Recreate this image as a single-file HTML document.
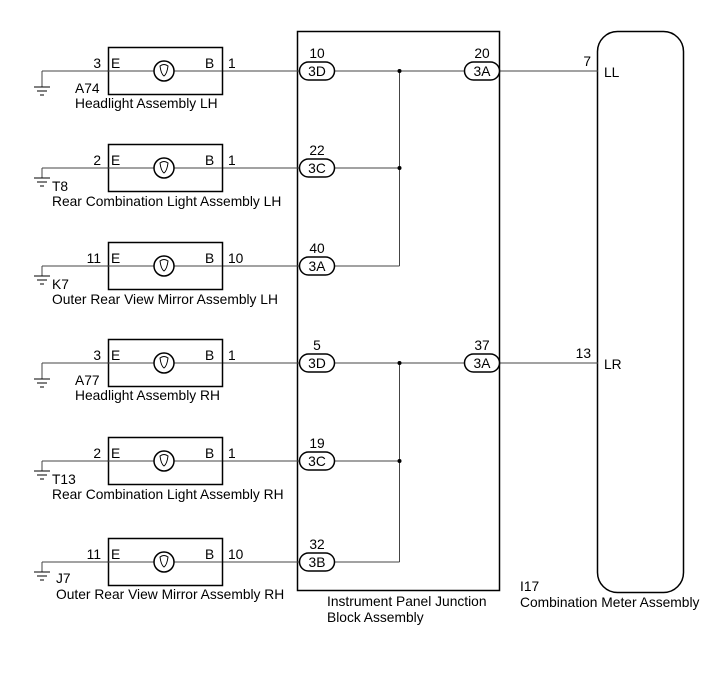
<!DOCTYPE html>
<html><head><meta charset="utf-8"><style>
html,body{margin:0;padding:0;background:#fff;}
svg{display:block;font-family:"Liberation Sans",Arial,sans-serif;font-size:13.8px;}
.w{stroke:#444;stroke-width:1;fill:none}
.k{stroke:#000;stroke-width:1.5;fill:#fff}
.g{stroke:#000;stroke-width:1}
text{fill:#000}
.m{text-anchor:middle}
.e{text-anchor:end}
</style></head><body>
<svg width="713" height="681" viewBox="0 0 713 681" xmlns="http://www.w3.org/2000/svg">
<rect x="297.5" y="31.5" width="202" height="559" fill="none" stroke="#000" stroke-width="1.5"/>
<rect x="597.5" y="31.5" width="86" height="561" rx="20" fill="none" stroke="#000" stroke-width="1.5"/>

<g transform="translate(0,71)">
<line class="w" x1="334" y1="0" x2="598" y2="0"/>
<line class="w" x1="399.5" y1="0" x2="399.5" y2="195"/>
<line class="w" x1="334" y1="195" x2="399.5" y2="195"/>
<line class="w" x1="334" y1="97" x2="399.5" y2="97"/>
<circle cx="399.5" cy="0" r="2"/><circle cx="399.5" cy="97" r="2"/>
<rect class="k" x="464.5" y="-9" width="35" height="18" rx="9"/>
<text class="m" x="482" y="5">3A</text><text class="m" x="482" y="-13">20</text>
<text class="e" x="591" y="-5">7</text><text x="604" y="6">LL</text>
</g>
<g transform="translate(0,363)">
<line class="w" x1="334" y1="0" x2="598" y2="0"/>
<line class="w" x1="399.5" y1="0" x2="399.5" y2="199"/>
<line class="w" x1="334" y1="199" x2="399.5" y2="199"/>
<line class="w" x1="334" y1="98" x2="399.5" y2="98"/>
<circle cx="399.5" cy="0" r="2"/><circle cx="399.5" cy="98" r="2"/>
<rect class="k" x="464.5" y="-9" width="35" height="18" rx="9"/>
<text class="m" x="482" y="5">3A</text><text class="m" x="482" y="-13">37</text>
<text class="e" x="591" y="-5">13</text><text x="604" y="6">LR</text>
</g>

<g transform="translate(0,71)">
<line class="w" x1="42" y1="0" x2="299" y2="0"/>
<line class="w" x1="42" y1="0" x2="42" y2="16"/>
<line class="g" x1="34" y1="16" x2="50" y2="16"/><line class="g" x1="37" y1="20" x2="47" y2="20"/><line class="g" x1="40" y1="24" x2="44" y2="24"/>
<rect class="k" x="108.5" y="-23.5" width="114" height="47"/>
<line class="w" x1="108" y1="0" x2="222" y2="0"/>
<circle class="k" cx="164" cy="0" r="10"/>
<path d="M160 -5 q4 -3 8 0 q-1 8 -4 10 q-3 -2 -4 -10z" fill="none" stroke="#000"/>
<rect class="k" x="299.5" y="-9" width="35" height="18" rx="9"/>
<text class="m" x="317" y="5">3D</text><text class="m" x="317" y="-13">10</text>
<text class="e" x="101" y="-3">3</text><text x="111" y="-3">E</text><text x="205" y="-3">B</text><text x="228" y="-3">1</text>
<text x="75" y="22">A74</text><text x="75" y="37">Headlight Assembly LH</text>
</g>
<g transform="translate(0,168)">
<line class="w" x1="42" y1="0" x2="299" y2="0"/>
<line class="w" x1="42" y1="0" x2="42" y2="10"/>
<line class="g" x1="34" y1="10" x2="50" y2="10"/><line class="g" x1="37" y1="14" x2="47" y2="14"/><line class="g" x1="40" y1="18" x2="44" y2="18"/>
<rect class="k" x="108.5" y="-23.5" width="114" height="47"/>
<line class="w" x1="108" y1="0" x2="222" y2="0"/>
<circle class="k" cx="164" cy="0" r="10"/>
<path d="M160 -5 q4 -3 8 0 q-1 8 -4 10 q-3 -2 -4 -10z" fill="none" stroke="#000"/>
<rect class="k" x="299.5" y="-9" width="35" height="18" rx="9"/>
<text class="m" x="317" y="5">3C</text><text class="m" x="317" y="-13">22</text>
<text class="e" x="101" y="-3">2</text><text x="111" y="-3">E</text><text x="205" y="-3">B</text><text x="228" y="-3">1</text>
<text x="52" y="23">T8</text><text x="52" y="38">Rear Combination Light Assembly LH</text>
</g>
<g transform="translate(0,266)">
<line class="w" x1="42" y1="0" x2="299" y2="0"/>
<line class="w" x1="42" y1="0" x2="42" y2="10"/>
<line class="g" x1="34" y1="10" x2="50" y2="10"/><line class="g" x1="37" y1="14" x2="47" y2="14"/><line class="g" x1="40" y1="18" x2="44" y2="18"/>
<rect class="k" x="108.5" y="-23.5" width="114" height="47"/>
<line class="w" x1="108" y1="0" x2="222" y2="0"/>
<circle class="k" cx="164" cy="0" r="10"/>
<path d="M160 -5 q4 -3 8 0 q-1 8 -4 10 q-3 -2 -4 -10z" fill="none" stroke="#000"/>
<rect class="k" x="299.5" y="-9" width="35" height="18" rx="9"/>
<text class="m" x="317" y="5">3A</text><text class="m" x="317" y="-13">40</text>
<text class="e" x="101" y="-3">11</text><text x="111" y="-3">E</text><text x="205" y="-3">B</text><text x="228" y="-3">10</text>
<text x="52" y="23">K7</text><text x="52" y="38">Outer Rear View Mirror Assembly LH</text>
</g>
<g transform="translate(0,363)">
<line class="w" x1="42" y1="0" x2="299" y2="0"/>
<line class="w" x1="42" y1="0" x2="42" y2="16"/>
<line class="g" x1="34" y1="16" x2="50" y2="16"/><line class="g" x1="37" y1="20" x2="47" y2="20"/><line class="g" x1="40" y1="24" x2="44" y2="24"/>
<rect class="k" x="108.5" y="-23.5" width="114" height="47"/>
<line class="w" x1="108" y1="0" x2="222" y2="0"/>
<circle class="k" cx="164" cy="0" r="10"/>
<path d="M160 -5 q4 -3 8 0 q-1 8 -4 10 q-3 -2 -4 -10z" fill="none" stroke="#000"/>
<rect class="k" x="299.5" y="-9" width="35" height="18" rx="9"/>
<text class="m" x="317" y="5">3D</text><text class="m" x="317" y="-13">5</text>
<text class="e" x="101" y="-3">3</text><text x="111" y="-3">E</text><text x="205" y="-3">B</text><text x="228" y="-3">1</text>
<text x="75" y="22">A77</text><text x="75" y="37">Headlight Assembly RH</text>
</g>
<g transform="translate(0,461)">
<line class="w" x1="42" y1="0" x2="299" y2="0"/>
<line class="w" x1="42" y1="0" x2="42" y2="10"/>
<line class="g" x1="34" y1="10" x2="50" y2="10"/><line class="g" x1="37" y1="14" x2="47" y2="14"/><line class="g" x1="40" y1="18" x2="44" y2="18"/>
<rect class="k" x="108.5" y="-23.5" width="114" height="47"/>
<line class="w" x1="108" y1="0" x2="222" y2="0"/>
<circle class="k" cx="164" cy="0" r="10"/>
<path d="M160 -5 q4 -3 8 0 q-1 8 -4 10 q-3 -2 -4 -10z" fill="none" stroke="#000"/>
<rect class="k" x="299.5" y="-9" width="35" height="18" rx="9"/>
<text class="m" x="317" y="5">3C</text><text class="m" x="317" y="-13">19</text>
<text class="e" x="101" y="-3">2</text><text x="111" y="-3">E</text><text x="205" y="-3">B</text><text x="228" y="-3">1</text>
<text x="52" y="23">T13</text><text x="52" y="38">Rear Combination Light Assembly RH</text>
</g>
<g transform="translate(0,562)">
<line class="w" x1="42" y1="0" x2="299" y2="0"/>
<line class="w" x1="42" y1="0" x2="42" y2="10"/>
<line class="g" x1="34" y1="10" x2="50" y2="10"/><line class="g" x1="37" y1="14" x2="47" y2="14"/><line class="g" x1="40" y1="18" x2="44" y2="18"/>
<rect class="k" x="108.5" y="-23.5" width="114" height="47"/>
<line class="w" x1="108" y1="0" x2="222" y2="0"/>
<circle class="k" cx="164" cy="0" r="10"/>
<path d="M160 -5 q4 -3 8 0 q-1 8 -4 10 q-3 -2 -4 -10z" fill="none" stroke="#000"/>
<rect class="k" x="299.5" y="-9" width="35" height="18" rx="9"/>
<text class="m" x="317" y="5">3B</text><text class="m" x="317" y="-13">32</text>
<text class="e" x="101" y="-3">11</text><text x="111" y="-3">E</text><text x="205" y="-3">B</text><text x="228" y="-3">10</text>
<text x="56" y="21">J7</text><text x="56" y="37">Outer Rear View Mirror Assembly RH</text>
</g>

<text x="327" y="606">Instrument Panel Junction</text>
<text x="327" y="622">Block Assembly</text>
<text x="520" y="591">I17</text>
<text x="520" y="607">Combination Meter Assembly</text>
</svg>
</body></html>
